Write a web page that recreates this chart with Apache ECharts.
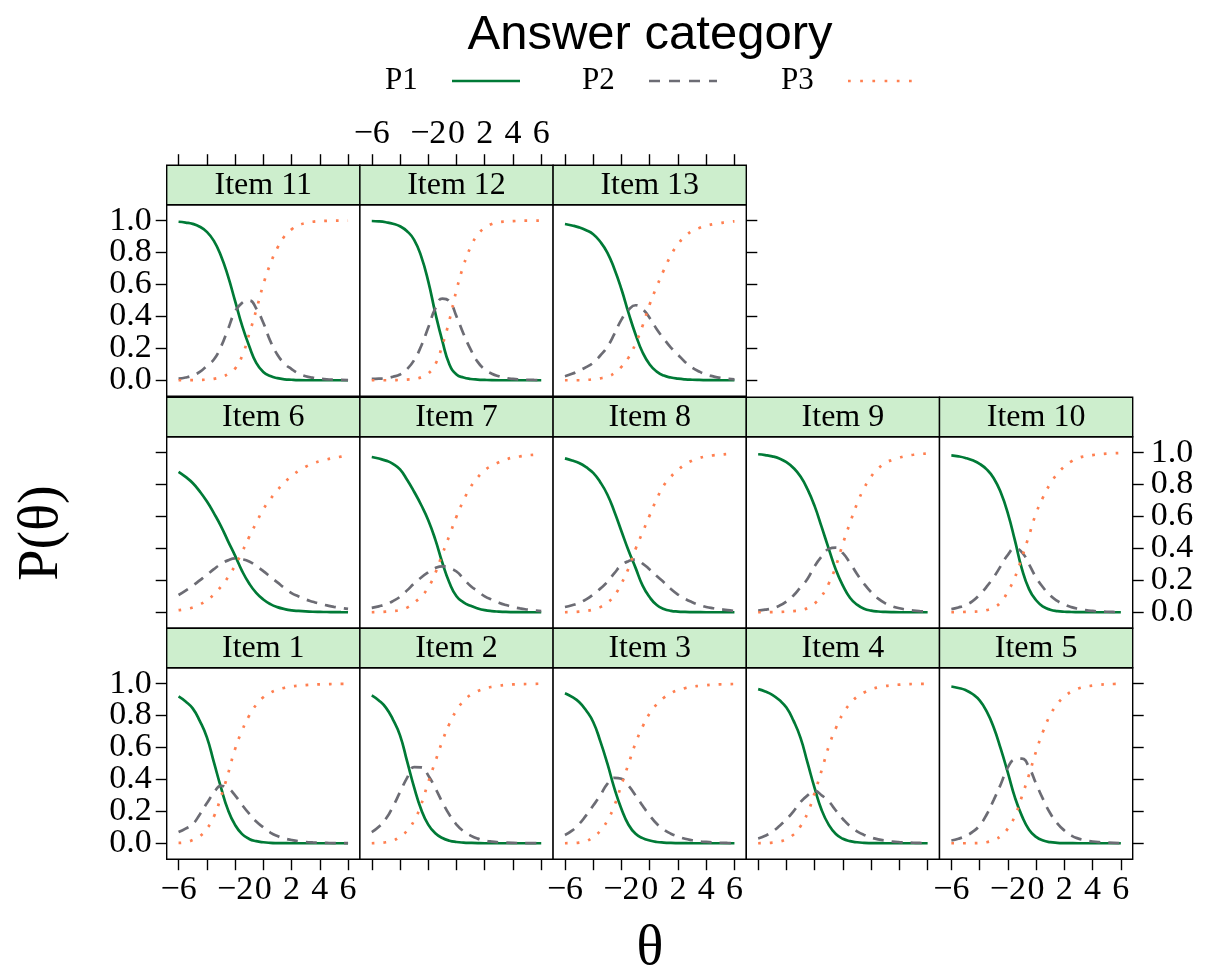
<!DOCTYPE html>
<html>
<head>
<meta charset="utf-8">
<title>Answer category</title>
<script src="https://cdn.jsdelivr.net/npm/echarts@6.0.0/dist/echarts.min.js"></script>
<style>
  html, body { margin: 0; padding: 0; background: #fff; }
  #chart { width: 1208px; height: 972px; }
</style>
</head>
<body>
<div id="chart"></div>
<script>
// ability grid (theta) the curves are read at, every half unit
const theta = [-6, -5.5, -5, -4.5, -4, -3.5, -3, -2.5, -2, -1.5, -1, -0.5, 0,
  0.5, 1, 1.5, 2, 2.5, 3, 3.5, 4, 4.5, 5, 5.5, 6];
const itemNames = ['Item 1', 'Item 2', 'Item 3', 'Item 4', 'Item 5', 'Item 6', 'Item 7',
  'Item 8', 'Item 9', 'Item 10', 'Item 11', 'Item 12', 'Item 13'];

// P1 (answer category 1), one row per item
const p1 = [
  [0.92, 0.888, 0.845, 0.767, 0.665, 0.508, 0.35, 0.209, 0.115, 0.057, 0.027, 0.013, 0.006, 0.0025, 0.001, 0.0004, 0, 0, 0, 0, 0, 0, 0, 0, 0],
  [0.927, 0.895, 0.85, 0.775, 0.676, 0.514, 0.35, 0.211, 0.117, 0.063, 0.033, 0.016, 0.008, 0.004, 0.002, 0.0006, 0, 0, 0, 0, 0, 0, 0, 0, 0],
  [0.94, 0.917, 0.885, 0.832, 0.76, 0.64, 0.50, 0.344, 0.215, 0.116, 0.059, 0.032, 0.017, 0.008, 0.004, 0.002, 0.001, 0.0003, 0, 0, 0, 0, 0, 0, 0],
  [0.966, 0.951, 0.93, 0.897, 0.85, 0.768, 0.66, 0.503, 0.345, 0.207, 0.115, 0.058, 0.028, 0.013, 0.006, 0.0025, 0.001, 0.0003, 0, 0, 0, 0, 0, 0, 0],
  [0.982, 0.973, 0.96, 0.935, 0.895, 0.826, 0.725, 0.591, 0.442, 0.287, 0.17, 0.085, 0.04, 0.017, 0.007, 0.0027, 0.001, 0.0003, 0, 0, 0, 0, 0, 0, 0],
  [0.88, 0.848, 0.81, 0.757, 0.695, 0.621, 0.54, 0.446, 0.355, 0.258, 0.18, 0.121, 0.08, 0.051, 0.032, 0.02, 0.012, 0.008, 0.005, 0.003, 0.002, 0.0014, 0.001, 0.0004, 0],
  [0.973, 0.963, 0.95, 0.93, 0.895, 0.83, 0.755, 0.672, 0.577, 0.455, 0.31, 0.185, 0.10, 0.062, 0.04, 0.024, 0.013, 0.007, 0.004, 0.002, 0.001, 0.0003, 0, 0, 0],
  [0.964, 0.951, 0.935, 0.909, 0.873, 0.815, 0.738, 0.63, 0.508, 0.387, 0.278, 0.167, 0.094, 0.045, 0.021, 0.009, 0.004, 0.002, 0.001, 0.0003, 0, 0, 0, 0, 0],
  [0.99, 0.985, 0.977, 0.963, 0.94, 0.904, 0.85, 0.77, 0.665, 0.533, 0.397, 0.266, 0.167, 0.091, 0.048, 0.022, 0.01, 0.0045, 0.002, 0.0006, 0, 0, 0, 0, 0],
  [0.983, 0.977, 0.967, 0.952, 0.93, 0.895, 0.84, 0.75, 0.62, 0.45, 0.27, 0.145, 0.075, 0.035, 0.016, 0.007, 0.003, 0.0015, 0.001, 0.0003, 0, 0, 0, 0, 0],
  [0.993, 0.988, 0.98, 0.962, 0.93, 0.873, 0.78, 0.652, 0.497, 0.342, 0.214, 0.109, 0.052, 0.026, 0.013, 0.006, 0.003, 0.0008, 0, 0, 0, 0, 0, 0, 0],
  [0.998, 0.9955, 0.99, 0.981, 0.965, 0.934, 0.88, 0.776, 0.62, 0.421, 0.245, 0.099, 0.036, 0.017, 0.008, 0.004, 0.002, 0.0005, 0, 0, 0, 0, 0, 0, 0],
  [0.979, 0.97, 0.958, 0.94, 0.915, 0.868, 0.80, 0.697, 0.57, 0.422, 0.287, 0.174, 0.099, 0.054, 0.029, 0.017, 0.01, 0.0055, 0.003, 0.0017, 0.001, 0.0003, 0, 0, 0]
];

// P2 (middle category)
const p2 = [
  [0.07, 0.092, 0.12, 0.18, 0.25, 0.315, 0.36, 0.345, 0.30, 0.24, 0.185, 0.136, 0.10, 0.067, 0.045, 0.03, 0.02, 0.0126, 0.008, 0.005, 0.003, 0.0017, 0.001, 0.001, 0.001],
  [0.07, 0.103, 0.153, 0.23, 0.32, 0.41, 0.477, 0.475, 0.425, 0.345, 0.257, 0.178, 0.117, 0.075, 0.048, 0.029, 0.017, 0.01, 0.006, 0.0035, 0.002, 0.0014, 0.001, 0.0005, 0],
  [0.052, 0.079, 0.12, 0.175, 0.236, 0.30, 0.372, 0.41, 0.404, 0.36, 0.30, 0.235, 0.174, 0.122, 0.086, 0.06, 0.042, 0.028, 0.019, 0.012, 0.008, 0.005, 0.003, 0.0017, 0.001],
  [0.03, 0.0465, 0.072, 0.108, 0.15, 0.20, 0.258, 0.30, 0.328, 0.30, 0.262, 0.205, 0.152, 0.107, 0.075, 0.052, 0.036, 0.024, 0.016, 0.0106, 0.007, 0.0046, 0.003, 0.0017, 0.001],
  [0.017, 0.028, 0.045, 0.071, 0.112, 0.18, 0.272, 0.37, 0.475, 0.525, 0.53, 0.475, 0.373, 0.275, 0.188, 0.125, 0.08, 0.048, 0.029, 0.018, 0.011, 0.0066, 0.004, 0.002, 0.001],
  [0.108, 0.136, 0.166, 0.20, 0.234, 0.27, 0.302, 0.325, 0.337, 0.332, 0.318, 0.29, 0.258, 0.222, 0.187, 0.152, 0.12, 0.099, 0.08, 0.066, 0.053, 0.043, 0.034, 0.027, 0.021],
  [0.027, 0.037, 0.05, 0.07, 0.097, 0.137, 0.18, 0.218, 0.25, 0.277, 0.288, 0.277, 0.255, 0.21, 0.165, 0.132, 0.10, 0.079, 0.06, 0.045, 0.033, 0.024, 0.017, 0.011, 0.007],
  [0.033, 0.044, 0.059, 0.081, 0.111, 0.148, 0.19, 0.245, 0.295, 0.32, 0.33, 0.305, 0.268, 0.227, 0.188, 0.146, 0.111, 0.084, 0.063, 0.046, 0.033, 0.025, 0.019, 0.013, 0.008],
  [0.01, 0.016, 0.025, 0.041, 0.067, 0.105, 0.157, 0.21, 0.289, 0.35, 0.397, 0.405, 0.37, 0.31, 0.24, 0.178, 0.126, 0.085, 0.056, 0.037, 0.025, 0.016, 0.01, 0.0063, 0.004],
  [0.02, 0.03, 0.045, 0.07, 0.11, 0.16, 0.22, 0.29, 0.36, 0.40, 0.375, 0.30, 0.218, 0.155, 0.105, 0.071, 0.048, 0.032, 0.021, 0.013, 0.008, 0.005, 0.003, 0.0017, 0.001],
  [0.01, 0.017, 0.03, 0.052, 0.09, 0.13, 0.21, 0.32, 0.43, 0.485, 0.50, 0.45, 0.36, 0.245, 0.16, 0.105, 0.07, 0.042, 0.025, 0.016, 0.01, 0.006, 0.004, 0.002, 0.001],
  [0.008, 0.01, 0.013, 0.022, 0.036, 0.07, 0.126, 0.215, 0.33, 0.45, 0.512, 0.495, 0.40, 0.29, 0.193, 0.115, 0.067, 0.041, 0.025, 0.014, 0.008, 0.005, 0.003, 0.0017, 0.001],
  [0.025, 0.04, 0.06, 0.082, 0.11, 0.155, 0.21, 0.29, 0.38, 0.44, 0.47, 0.445, 0.39, 0.32, 0.26, 0.205, 0.16, 0.115, 0.08, 0.055, 0.036, 0.024, 0.015, 0.0095, 0.006]
];

// P3 (highest category)
const p3 = [
  [0.002, 0.0064, 0.02, 0.043, 0.09, 0.167, 0.29, 0.434, 0.59, 0.706, 0.80, 0.868, 0.915, 0.943, 0.962, 0.974, 0.982, 0.987, 0.991, 0.994, 0.996, 0.997, 0.998, 0.9986, 0.999],
  [0, 0.002, 0.006, 0.016, 0.042, 0.078, 0.142, 0.243, 0.383, 0.512, 0.64, 0.749, 0.833, 0.891, 0.93, 0.953, 0.969, 0.98, 0.987, 0.992, 0.995, 0.997, 0.998, 0.999, 1.0],
  [0, 0.0012, 0.004, 0.013, 0.04, 0.077, 0.142, 0.236, 0.366, 0.497, 0.628, 0.731, 0.814, 0.871, 0.912, 0.94, 0.96, 0.972, 0.981, 0.986, 0.99, 0.994, 0.996, 0.997, 0.998],
  [0, 0.0012, 0.004, 0.01, 0.026, 0.054, 0.107, 0.19, 0.316, 0.458, 0.607, 0.721, 0.812, 0.874, 0.918, 0.945, 0.964, 0.977, 0.985, 0.99, 0.994, 0.9965, 0.998, 0.9986, 0.999],
  [0, 0, 0, 0.0006, 0.002, 0.0065, 0.021, 0.0445, 0.092, 0.171, 0.295, 0.43, 0.576, 0.702, 0.803, 0.872, 0.919, 0.95, 0.97, 0.981, 0.988, 0.993, 0.996, 0.998, 0.999],
  [0.013, 0.02, 0.03, 0.048, 0.075, 0.111, 0.16, 0.219, 0.293, 0.378, 0.472, 0.56, 0.645, 0.709, 0.765, 0.813, 0.853, 0.886, 0.912, 0.932, 0.947, 0.958, 0.967, 0.975, 0.981],
  [0, 0.0012, 0.004, 0.0075, 0.014, 0.029, 0.06, 0.098, 0.155, 0.245, 0.365, 0.481, 0.60, 0.701, 0.785, 0.845, 0.89, 0.918, 0.94, 0.957, 0.97, 0.977, 0.983, 0.987, 0.99],
  [0, 0.0012, 0.004, 0.008, 0.017, 0.032, 0.059, 0.105, 0.18, 0.275, 0.397, 0.502, 0.607, 0.71, 0.795, 0.849, 0.891, 0.926, 0.95, 0.966, 0.977, 0.983, 0.987, 0.991, 0.994],
  [0, 0.0003, 0.001, 0.002, 0.004, 0.007, 0.012, 0.026, 0.055, 0.102, 0.18, 0.289, 0.43, 0.559, 0.68, 0.777, 0.851, 0.901, 0.935, 0.955, 0.969, 0.98, 0.987, 0.992, 0.995],
  [0, 0.0006, 0.002, 0.0035, 0.006, 0.013, 0.029, 0.063, 0.13, 0.219, 0.345, 0.481, 0.62, 0.722, 0.805, 0.867, 0.912, 0.946, 0.967, 0.978, 0.985, 0.99, 0.994, 0.9965, 0.998],
  [0, 0.0003, 0.001, 0.002, 0.004, 0.009, 0.02, 0.0385, 0.073, 0.152, 0.29, 0.439, 0.60, 0.73, 0.83, 0.902, 0.945, 0.971, 0.985, 0.993, 0.997, 0.999, 1.0, 1.0, 1.0],
  [0, 0, 0, 0.0006, 0.002, 0.004, 0.008, 0.0185, 0.042, 0.10, 0.22, 0.377, 0.565, 0.719, 0.835, 0.912, 0.955, 0.979, 0.99, 0.9945, 0.997, 0.999, 1.0, 1.0, 1.0],
  [0, 0, 0, 0.002, 0.006, 0.012, 0.023, 0.044, 0.084, 0.142, 0.23, 0.342, 0.476, 0.587, 0.69, 0.782, 0.853, 0.901, 0.935, 0.954, 0.968, 0.978, 0.985, 0.992, 0.996]
];

const categories = ['P1', 'P2', 'P3'];
const xTicks = [-6, -4, -2, 0, 2, 4, 6];
const xTickLabels = [-6, -2, 0, 2, 4, 6]; // -4 dropped (overlaps -6)
const yTicks = [0, 0.2, 0.4, 0.6, 0.8, 1.0];
// the touching y labels are split over two coincident axes so none gets hidden
const yLabelSets = [[0, 0.4, 0.8], [0.2, 0.6, 1.0]];

// look
const SERIF = '"Liberation Serif", "Times New Roman", serif';
const lineStyles = [
  { color: '#007a36', width: 2.7, type: 'solid' },
  { color: '#6c6c74', width: 2.7, type: [11, 8] },
  { color: '#ff7f50', width: 2.7, type: [2.7, 9] }
];
const legendDash = [null, [11, 9], [2.7, 9.5]];
const STRIP_FILL = '#cdeecd';

// panel layout (lattice style 5 x 3, from bottom row up)
const LEFT0 = 166.7, PANEL_W = 193.2, PLOT_H = 191.5, STRIP_H = 39.5;
const rowTops = [667.7, 436.7, 204.7];
const rowLen = [5, 5, 3];

const fmtX = v => (v < 0 ? '\u2212' + Math.abs(v) : String(v));
const tickStyle = { color: '#000', width: 1.4 };
const labelFont = { fontFamily: SERIF, fontSize: 34, lineHeight: 28, color: '#000' };

const grids = [], xAxes = [], yAxes = [], series = [], graphics = [];

itemNames.forEach((name, i) => {
  const col = i % 5, row = Math.floor(i / 5);
  const left = LEFT0 + col * PANEL_W;
  const top = rowTops[row];
  const lastInRow = col === rowLen[row] - 1;
  const yShown = col === 0 || lastInRow;
  const yLabelled = (col === 0 && row !== 1) || (lastInRow && row === 1);

  grids.push({ left: left, top: top, width: PANEL_W, height: PLOT_H,
    show: true, borderColor: '#000', borderWidth: 1.4, backgroundColor: '#fff' });

  xAxes.push({
    gridIndex: i, type: 'value', min: -6.84, max: 6.84,
    position: row === 2 ? 'top' : 'bottom',
    offset: row === 2 ? STRIP_H : 0,
    axisLine: { show: false, onZero: false }, splitLine: { show: false },
    axisTick: { show: row !== 1, customValues: xTicks, length: 11, lineStyle: tickStyle },
    axisLabel: Object.assign({
      show: (row === 0 && col % 2 === 0) || (row === 2 && col === 1),
      customValues: xTickLabels, formatter: fmtX, margin: 17,
      showMinLabel: true, showMaxLabel: true, hideOverlap: false
    }, labelFont)
  });

  const yIndex = yAxes.length;
  yLabelSets.forEach((labelVals, s) => {
    yAxes.push({
      gridIndex: i, type: 'value', min: -0.1, max: 1.1,
      show: yShown,
      position: col === 0 ? 'left' : 'right',
      axisLine: { show: false, onZero: false }, splitLine: { show: false },
      axisTick: { show: s === 0, customValues: yTicks, length: 11, lineStyle: tickStyle },
      axisLabel: Object.assign({
        show: yLabelled,
        customValues: labelVals, formatter: v => v.toFixed(1),
        margin: col === 0 ? 15 : 18,
        showMinLabel: true, showMaxLabel: true, hideOverlap: false
      }, labelFont)
    });
  });

  [p1, p2, p3].forEach((vals, c) => {
    series.push({
      type: 'line', name: categories[c], xAxisIndex: i, yAxisIndex: yIndex,
      data: theta.map((t, k) => [t, vals[i][k]]),
      smooth: 0.5, symbol: 'none', silent: true,
      lineStyle: lineStyles[c]
    });
  });

  // strip with the item name
  graphics.push({
    type: 'rect', silent: true, z: 10,
    shape: { x: left, y: top - STRIP_H, width: PANEL_W, height: STRIP_H },
    style: { fill: STRIP_FILL, stroke: '#000', lineWidth: 1.4 }
  });
  graphics.push({
    type: 'text', silent: true, z: 11,
    x: left + PANEL_W / 2, y: top - STRIP_H / 2 + 1,
    style: { text: name, font: '32px ' + SERIF, fill: '#000', align: 'center', verticalAlign: 'middle' }
  });
});

// legend (text then line sample), axis titles
const legendX = [385, 582, 781];
categories.forEach((c, k) => {
  graphics.push({
    type: 'text', silent: true, x: legendX[k], y: 81,
    style: { text: c, font: '31px ' + SERIF, fill: '#000', align: 'left', verticalAlign: 'middle' }
  });
  graphics.push({
    type: 'line', silent: true,
    shape: { x1: legendX[k] + 67, y1: 81, x2: legendX[k] + 135, y2: 81 },
    style: { stroke: lineStyles[k].color, lineWidth: 2.7, lineDash: legendDash[k] }
  });
});
graphics.push({
  type: 'text', silent: true, x: 42, y: 533, rotation: Math.PI / 2,
  style: { text: 'P(\u03b8)', font: '56px ' + SERIF, fill: '#000', align: 'center', verticalAlign: 'middle' }
});
graphics.push({
  type: 'text', silent: true, x: 650, y: 949,
  style: { text: '\u03b8', font: '56px ' + SERIF, fill: '#000', align: 'center', verticalAlign: 'middle' }
});

const chart = echarts.init(document.getElementById('chart'), null, { renderer: 'canvas' });
chart.setOption({
  animation: false,
  backgroundColor: '#fff',
  title: {
    text: 'Answer category', left: 645, top: 6, textAlign: 'center',
    textStyle: { fontFamily: '"Liberation Sans", Arial, sans-serif', fontSize: 49, fontWeight: 'normal', color: '#000' }
  },
  grid: grids,
  xAxis: xAxes,
  yAxis: yAxes,
  series: series,
  graphic: graphics
});
</script>
</body>
</html>
